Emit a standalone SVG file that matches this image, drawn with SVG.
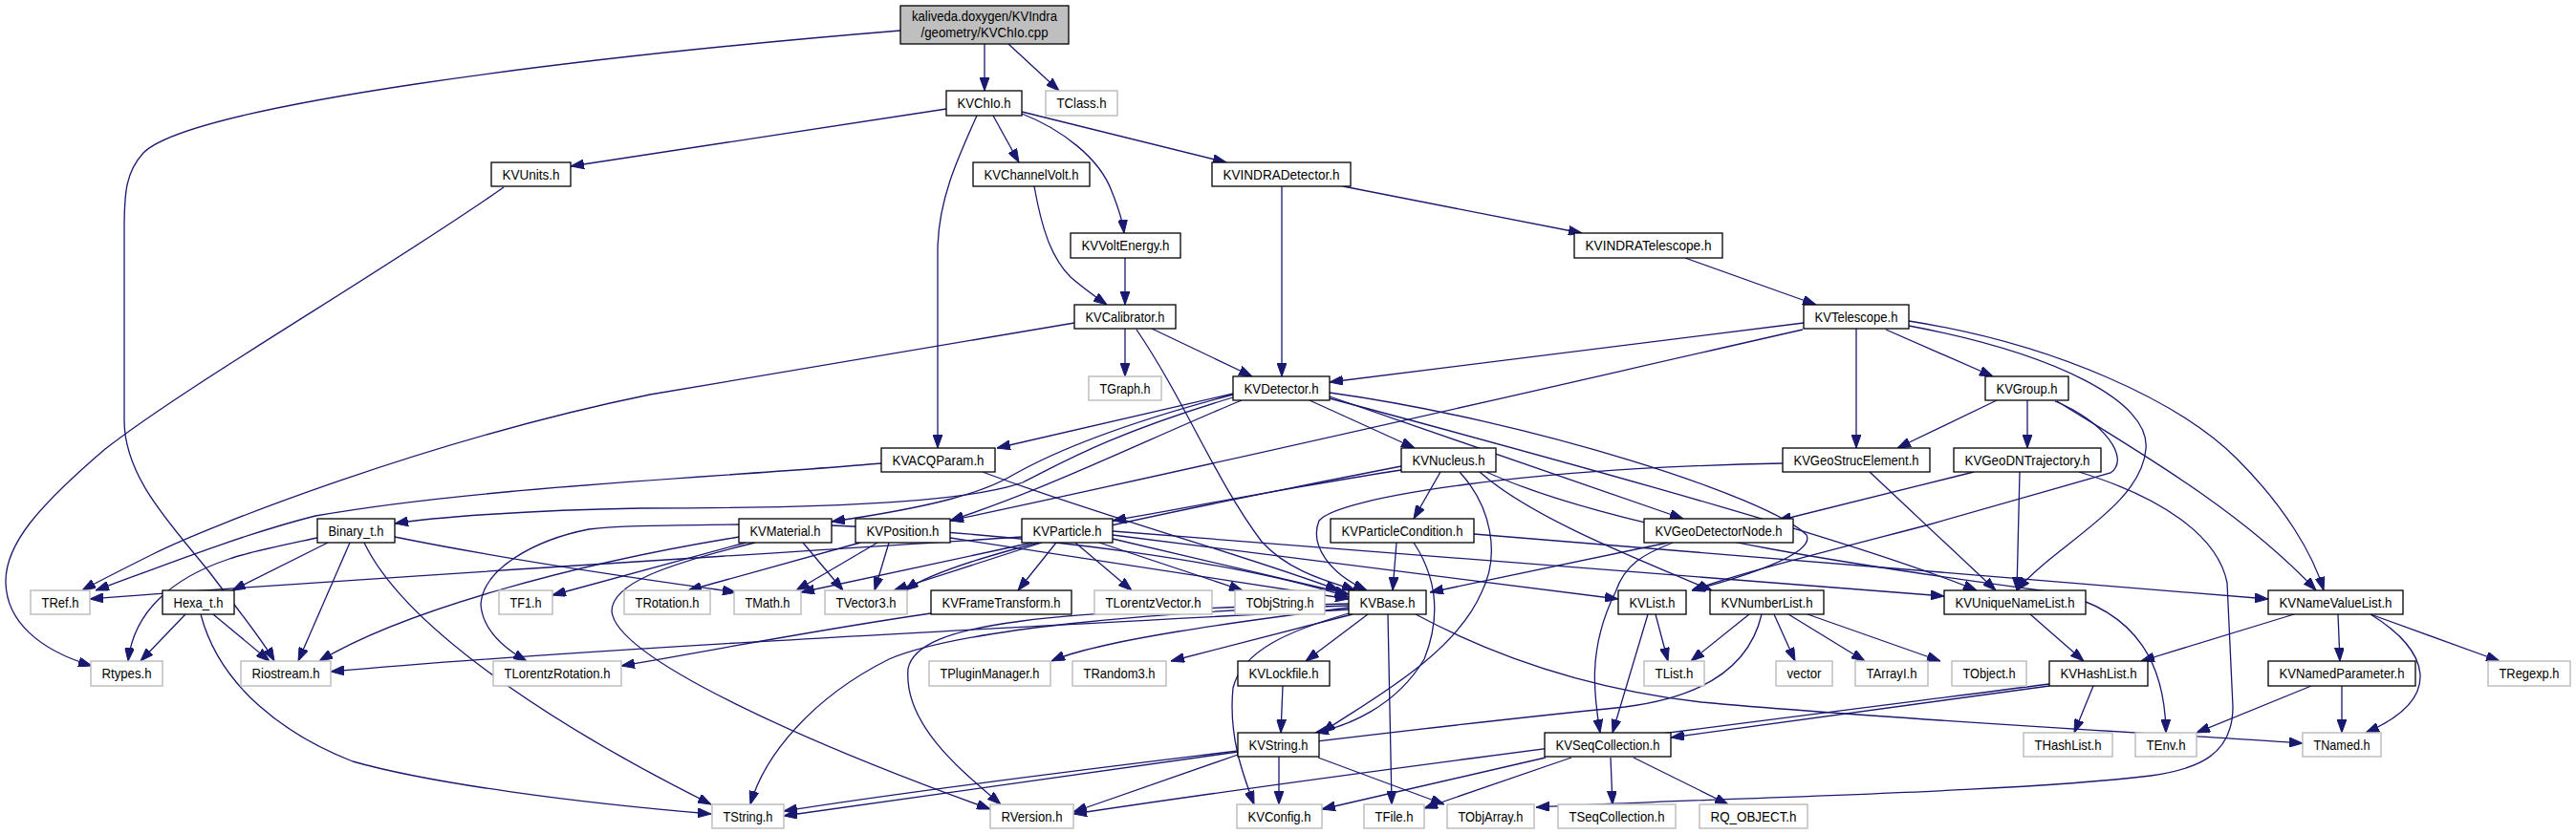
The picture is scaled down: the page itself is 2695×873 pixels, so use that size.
<svg xmlns="http://www.w3.org/2000/svg" width="2695" height="873" viewBox="0 0 2695 873">
<style>
rect{fill:#fff;stroke:#000;stroke-width:1.3}
.g rect{stroke:#bfbfbf;stroke-width:1.5}
.r rect{fill:#bfbfbf}
text{font-family:"Liberation Sans",Arial,sans-serif;font-size:15px;text-anchor:middle;fill:#000}
#edges path{fill:none;stroke:#191970;stroke-width:1.3;marker-end:url(#a)}
</style>
<defs>
<marker id="a" markerWidth="14" markerHeight="10" refX="14" refY="5" orient="auto" markerUnits="userSpaceOnUse"><path d="M0,0 L14,5 L0,10 z" fill="#191970" stroke="#191970"/></marker>
</defs>
<rect x="0" y="0" width="2695" height="873" style="stroke:none"/>
<g id="edges">
<path d="M1030,46 L1030,95"/>
<path d="M1055,46 L1108,95"/>
<path d="M942,32 C600,60 200,110 150,160 C132,180 130,200 130,240 L130,440 C130,500 180,550 220,600 C250,640 275,670 287,692"/>
<path d="M990,114 L597,174"/>
<path d="M1039,121 L1066,170"/>
<path d="M1069,119 C1110,135 1150,165 1163,200 C1171,220 1175,235 1176,244"/>
<path d="M1069,117 L1283,170"/>
<path d="M1022,121 C1000,170 982,210 981,260 L981,469"/>
<path d="M527,196 C400,285 200,400 110,470 C40,530 5,570 6,610 C7,650 40,680 96,697"/>
<path d="M1082,195 C1090,240 1100,270 1120,290 C1135,303 1148,312 1158,319"/>
<path d="M1177,270 L1177,319"/>
<path d="M1405,195 L1655,244"/>
<path d="M1341,195 L1341,394"/>
<path d="M1763,270 L1900,319"/>
<path d="M1177,344 L1177,394"/>
<path d="M1205,344 L1310,394"/>
<path d="M1124,338 L680,413 C450,460 220,550 160,580 C120,600 100,610 86,618"/>
<path d="M1189,345 C1240,420 1270,500 1320,567 C1350,600 1395,610 1418,618"/>
<path d="M1887,338 L1391,400"/>
<path d="M1886,345 C1600,410 1300,480 994,545"/>
<path d="M1942,344 L1942,469"/>
<path d="M1973,345 L2085,394"/>
<path d="M1997,336 C2150,360 2280,420 2340,480 C2390,530 2420,580 2431,618"/>
<path d="M1997,341 C2150,370 2250,420 2245,470 C2240,530 2150,570 2110,618"/>
<path d="M2089,419 L1985,469"/>
<path d="M2121,419 L2121,469"/>
<path d="M2152,420 C2250,480 2350,540 2423,618"/>
<path d="M2150,420 C2200,440 2230,480 2208,495 L2015,550 C1900,580 1820,600 1770,618"/>
<path d="M1956,494 L2088,618"/>
<path d="M2113,494 L2110,618"/>
<path d="M2175,494 C2260,520 2320,560 2330,610 L2336,740 C2336,790 2300,805 2250,812 C2100,830 1800,835 1607,845"/>
<path d="M2065,494 L1860,545"/>
<path d="M1865,485 C1600,490 1400,520 1380,545 C1370,570 1390,600 1430,618"/>
<path d="M1290,412 L1043,469"/>
<path d="M1370,419 L1480,469"/>
<path d="M1391,415 L1761,543"/>
<path d="M1299,419 C1200,460 1100,510 994,545"/>
<path d="M1290,413 C1150,450 1090,480 1060,497 C1030,515 980,530 870,546"/>
<path d="M1290,416 C1160,455 1110,485 1070,505 C1000,530 800,532 670,532 C550,534 450,542 413,548"/>
<path d="M773,549 C700,550 650,550 616,554 C560,565 505,595 503,633 C505,660 530,680 551,692"/>
<path d="M1391,411 C1600,440 1850,520 1890,560 C1900,580 1820,605 1770,618"/>
<path d="M1391,417 C1700,500 1950,570 2068,618"/>
<path d="M922,485 C750,500 500,510 330,540 C250,560 150,600 100,618"/>
<path d="M1028,494 C1150,540 1300,580 1401,618"/>
<path d="M1507,494 L1479,543"/>
<path d="M1466,492 C1350,510 1250,530 1164,545"/>
<path d="M1527,494 C1560,530 1570,580 1550,620 C1520,690 1420,740 1383,767"/>
<path d="M1548,494 C1600,540 1700,580 1791,618"/>
<path d="M1466,488 C1200,540 1000,580 947,618"/>
<path d="M1555,494 C1700,560 2000,600 2150,620 C2240,640 2265,700 2266,767"/>
<path d="M1069,562 C800,580 300,610 94,627"/>
<path d="M1080,568 L838,620"/>
<path d="M1090,568 L935,618"/>
<path d="M1105,568 L1065,618"/>
<path d="M1125,568 L1184,618"/>
<path d="M1150,568 L1300,618"/>
<path d="M1164,564 L1411,622"/>
<path d="M1164,560 L1693,627"/>
<path d="M1164,556 L2034,624"/>
<path d="M1461,568 L1457,618"/>
<path d="M1479,568 C1500,600 1510,640 1490,690 C1460,740 1410,760 1376,767"/>
<path d="M1542,559 L2373,627"/>
<path d="M1745,568 L1496,620"/>
<path d="M1750,568 C1720,580 1700,590 1690,620 C1660,680 1668,730 1674,767"/>
<path d="M773,562 C600,590 420,640 334,692"/>
<path d="M780,568 L578,623"/>
<path d="M840,568 L882,618"/>
<path d="M790,568 C700,590 640,610 640,640 C645,690 850,780 1036,847"/>
<path d="M870,550 C1100,560 1300,590 1411,625"/>
<path d="M900,568 L720,618"/>
<path d="M918,568 L833,618"/>
<path d="M930,568 L915,618"/>
<path d="M994,563 L1411,627"/>
<path d="M343,568 L243,618"/>
<path d="M332,563 C290,572 260,578 240,585 C180,605 140,640 134,692"/>
<path d="M366,568 L312,692"/>
<path d="M381,568 C420,650 560,750 744,842"/>
<path d="M413,562 C550,590 700,610 770,620"/>
<path d="M194,643 L147,692"/>
<path d="M223,643 L282,692"/>
<path d="M210,643 C230,720 300,770 369,797 C450,820 600,840 744,852"/>
<path d="M974,642 C850,660 750,680 650,697"/>
<path d="M1411,638 C1000,660 600,680 346,703"/>
<path d="M1411,636 C1300,650 1150,670 1100,692"/>
<path d="M1415,643 L1225,692"/>
<path d="M1411,634 C1200,640 1000,660 930,690 C850,730 800,790 785,842"/>
<path d="M1411,632 C1100,640 960,650 950,700 C945,760 1010,810 1047,842"/>
<path d="M1431,643 L1366,692"/>
<path d="M1452,643 L1456,842"/>
<path d="M1481,643 C1550,680 1650,720 1780,735 C2000,755 2300,770 2409,778"/>
<path d="M1411,642 C1350,660 1300,680 1290,720 C1285,770 1300,810 1312,842"/>
<path d="M1342,718 L1340,767"/>
<path d="M1295,787 L820,854"/>
<path d="M1295,790 L1123,850"/>
<path d="M1338,792 L1338,842"/>
<path d="M1379,793 L1511,842"/>
<path d="M1732,643 L1745,692"/>
<path d="M1724,643 L1687,767"/>
<path d="M1830,643 L1769,692"/>
<path d="M1856,643 L1878,692"/>
<path d="M1871,643 L1951,692"/>
<path d="M1891,643 L2030,692"/>
<path d="M1843,643 C1830,700 1780,730 1700,740 C1500,760 1000,820 820,849"/>
<path d="M2144,716 C1800,760 1400,810 1123,852"/>
<path d="M2144,718 L1748,772"/>
<path d="M2190,718 L2170,767"/>
<path d="M1617,793 L1383,847"/>
<path d="M1644,793 L1490,846"/>
<path d="M1685,793 L1687,842"/>
<path d="M1709,793 L1808,842"/>
<path d="M2124,643 L2180,692"/>
<path d="M2400,643 L2240,692"/>
<path d="M2446,643 L2448,692"/>
<path d="M2480,643 L2615,692"/>
<path d="M2480,643 C2540,680 2560,730 2475,767"/>
<path d="M2418,718 L2298,767"/>
<path d="M2450,718 L2450,767"/>
</g>
<g id="n_root" class="r"><rect x="942" y="6" width="176" height="40"/><text x="1030" y="22" textLength="152" lengthAdjust="spacingAndGlyphs">kaliveda.doxygen/KVIndra</text><text x="1030" y="39" textLength="133" lengthAdjust="spacingAndGlyphs">/geometry/KVChIo.cpp</text></g>
<g id="n_KVChIo"><rect x="990" y="95" width="79" height="26"/><text x="1029.5" y="113" textLength="56" lengthAdjust="spacingAndGlyphs">KVChIo.h</text></g>
<g id="n_TClass" class="g"><rect x="1094" y="95" width="75" height="26"/><text x="1131.5" y="113" textLength="52" lengthAdjust="spacingAndGlyphs">TClass.h</text></g>
<g id="n_KVUnits"><rect x="514" y="170" width="83" height="25"/><text x="555.5" y="188" textLength="60" lengthAdjust="spacingAndGlyphs">KVUnits.h</text></g>
<g id="n_KVChannelVolt"><rect x="1018" y="170" width="122" height="25"/><text x="1079" y="188" textLength="99" lengthAdjust="spacingAndGlyphs">KVChannelVolt.h</text></g>
<g id="n_KVINDRADetector"><rect x="1268" y="170" width="145" height="25"/><text x="1340.5" y="188" textLength="122" lengthAdjust="spacingAndGlyphs">KVINDRADetector.h</text></g>
<g id="n_KVVoltEnergy"><rect x="1120" y="244" width="115" height="26"/><text x="1177.5" y="262" textLength="92" lengthAdjust="spacingAndGlyphs">KVVoltEnergy.h</text></g>
<g id="n_KVINDRATelescope"><rect x="1647" y="244" width="155" height="26"/><text x="1724.5" y="262" textLength="132" lengthAdjust="spacingAndGlyphs">KVINDRATelescope.h</text></g>
<g id="n_KVCalibrator"><rect x="1124" y="319" width="106" height="25"/><text x="1177" y="337" textLength="83" lengthAdjust="spacingAndGlyphs">KVCalibrator.h</text></g>
<g id="n_KVTelescope"><rect x="1887" y="319" width="110" height="25"/><text x="1942" y="337" textLength="87" lengthAdjust="spacingAndGlyphs">KVTelescope.h</text></g>
<g id="n_TGraph" class="g"><rect x="1139" y="394" width="76" height="25"/><text x="1177" y="412" textLength="53" lengthAdjust="spacingAndGlyphs">TGraph.h</text></g>
<g id="n_KVDetector"><rect x="1290" y="394" width="101" height="25"/><text x="1340.5" y="412" textLength="78" lengthAdjust="spacingAndGlyphs">KVDetector.h</text></g>
<g id="n_KVGroup"><rect x="2077" y="394" width="87" height="25"/><text x="2120.5" y="412" textLength="64" lengthAdjust="spacingAndGlyphs">KVGroup.h</text></g>
<g id="n_KVACQParam"><rect x="922" y="469" width="119" height="25"/><text x="981.5" y="487" textLength="96" lengthAdjust="spacingAndGlyphs">KVACQParam.h</text></g>
<g id="n_KVNucleus"><rect x="1466" y="469" width="99" height="25"/><text x="1515.5" y="487" textLength="76" lengthAdjust="spacingAndGlyphs">KVNucleus.h</text></g>
<g id="n_KVGeoStrucElement"><rect x="1865" y="469" width="154" height="25"/><text x="1942" y="487" textLength="131" lengthAdjust="spacingAndGlyphs">KVGeoStrucElement.h</text></g>
<g id="n_KVGeoDNTrajectory"><rect x="2044" y="469" width="154" height="25"/><text x="2121" y="487" textLength="131" lengthAdjust="spacingAndGlyphs">KVGeoDNTrajectory.h</text></g>
<g id="n_Binary_t"><rect x="332" y="543" width="81" height="25"/><text x="372.5" y="561" textLength="58" lengthAdjust="spacingAndGlyphs">Binary_t.h</text></g>
<g id="n_KVMaterial"><rect x="773" y="543" width="97" height="25"/><text x="821.5" y="561" textLength="74" lengthAdjust="spacingAndGlyphs">KVMaterial.h</text></g>
<g id="n_KVPosition"><rect x="895" y="543" width="99" height="25"/><text x="944.5" y="561" textLength="76" lengthAdjust="spacingAndGlyphs">KVPosition.h</text></g>
<g id="n_KVParticle"><rect x="1069" y="543" width="95" height="25"/><text x="1116.5" y="561" textLength="72" lengthAdjust="spacingAndGlyphs">KVParticle.h</text></g>
<g id="n_KVParticleCondition"><rect x="1392" y="543" width="150" height="25"/><text x="1467" y="561" textLength="127" lengthAdjust="spacingAndGlyphs">KVParticleCondition.h</text></g>
<g id="n_KVGeoDetectorNode"><rect x="1720" y="543" width="156" height="25"/><text x="1798" y="561" textLength="133" lengthAdjust="spacingAndGlyphs">KVGeoDetectorNode.h</text></g>
<g id="n_TRef" class="g"><rect x="32" y="618" width="62" height="25"/><text x="63" y="636" textLength="39" lengthAdjust="spacingAndGlyphs">TRef.h</text></g>
<g id="n_Hexa_t"><rect x="170" y="618" width="75" height="25"/><text x="207.5" y="636" textLength="52" lengthAdjust="spacingAndGlyphs">Hexa_t.h</text></g>
<g id="n_TF1" class="g"><rect x="522" y="618" width="56" height="25"/><text x="550" y="636" textLength="33" lengthAdjust="spacingAndGlyphs">TF1.h</text></g>
<g id="n_TRotation" class="g"><rect x="653" y="618" width="90" height="25"/><text x="698" y="636" textLength="67" lengthAdjust="spacingAndGlyphs">TRotation.h</text></g>
<g id="n_TMath" class="g"><rect x="768" y="618" width="70" height="25"/><text x="803" y="636" textLength="47" lengthAdjust="spacingAndGlyphs">TMath.h</text></g>
<g id="n_TVector3" class="g"><rect x="863" y="618" width="86" height="25"/><text x="906" y="636" textLength="63" lengthAdjust="spacingAndGlyphs">TVector3.h</text></g>
<g id="n_KVFrameTransform"><rect x="974" y="618" width="147" height="25"/><text x="1047.5" y="636" textLength="124" lengthAdjust="spacingAndGlyphs">KVFrameTransform.h</text></g>
<g id="n_TLorentzVector" class="g"><rect x="1145" y="618" width="123" height="25"/><text x="1206.5" y="636" textLength="100" lengthAdjust="spacingAndGlyphs">TLorentzVector.h</text></g>
<g id="n_TObjString" class="g"><rect x="1292" y="618" width="94" height="25"/><text x="1339" y="636" textLength="71" lengthAdjust="spacingAndGlyphs">TObjString.h</text></g>
<g id="n_KVBase"><rect x="1411" y="618" width="81" height="25"/><text x="1451.5" y="636" textLength="58" lengthAdjust="spacingAndGlyphs">KVBase.h</text></g>
<g id="n_KVList"><rect x="1693" y="618" width="71" height="25"/><text x="1728.5" y="636" textLength="48" lengthAdjust="spacingAndGlyphs">KVList.h</text></g>
<g id="n_KVNumberList"><rect x="1789" y="618" width="119" height="25"/><text x="1848.5" y="636" textLength="96" lengthAdjust="spacingAndGlyphs">KVNumberList.h</text></g>
<g id="n_KVUniqueNameList"><rect x="2034" y="618" width="148" height="25"/><text x="2108" y="636" textLength="125" lengthAdjust="spacingAndGlyphs">KVUniqueNameList.h</text></g>
<g id="n_KVNameValueList"><rect x="2373" y="618" width="141" height="25"/><text x="2443.5" y="636" textLength="118" lengthAdjust="spacingAndGlyphs">KVNameValueList.h</text></g>
<g id="n_Rtypes" class="g"><rect x="95" y="692" width="75" height="26"/><text x="132.5" y="710" textLength="52" lengthAdjust="spacingAndGlyphs">Rtypes.h</text></g>
<g id="n_Riostream" class="g"><rect x="252" y="692" width="94" height="26"/><text x="299" y="710" textLength="71" lengthAdjust="spacingAndGlyphs">Riostream.h</text></g>
<g id="n_TLorentzRotation" class="g"><rect x="516" y="692" width="134" height="26"/><text x="583" y="710" textLength="111" lengthAdjust="spacingAndGlyphs">TLorentzRotation.h</text></g>
<g id="n_TPluginManager" class="g"><rect x="972" y="692" width="127" height="26"/><text x="1035.5" y="710" textLength="104" lengthAdjust="spacingAndGlyphs">TPluginManager.h</text></g>
<g id="n_TRandom3" class="g"><rect x="1122" y="692" width="98" height="26"/><text x="1171" y="710" textLength="75" lengthAdjust="spacingAndGlyphs">TRandom3.h</text></g>
<g id="n_KVLockfile"><rect x="1295" y="692" width="96" height="26"/><text x="1343" y="710" textLength="73" lengthAdjust="spacingAndGlyphs">KVLockfile.h</text></g>
<g id="n_TList" class="g"><rect x="1720" y="692" width="63" height="26"/><text x="1751.5" y="710" textLength="40" lengthAdjust="spacingAndGlyphs">TList.h</text></g>
<g id="n_vector" class="g"><rect x="1858" y="692" width="59" height="26"/><text x="1887.5" y="710" textLength="36" lengthAdjust="spacingAndGlyphs">vector</text></g>
<g id="n_TArrayI" class="g"><rect x="1941" y="692" width="76" height="26"/><text x="1979" y="710" textLength="53" lengthAdjust="spacingAndGlyphs">TArrayI.h</text></g>
<g id="n_TObject" class="g"><rect x="2042" y="692" width="78" height="26"/><text x="2081" y="710" textLength="55" lengthAdjust="spacingAndGlyphs">TObject.h</text></g>
<g id="n_KVHashList"><rect x="2144" y="692" width="103" height="26"/><text x="2195.5" y="710" textLength="80" lengthAdjust="spacingAndGlyphs">KVHashList.h</text></g>
<g id="n_KVNamedParameter"><rect x="2373" y="692" width="154" height="26"/><text x="2450" y="710" textLength="131" lengthAdjust="spacingAndGlyphs">KVNamedParameter.h</text></g>
<g id="n_TRegexp" class="g"><rect x="2603" y="692" width="86" height="26"/><text x="2646" y="710" textLength="63" lengthAdjust="spacingAndGlyphs">TRegexp.h</text></g>
<g id="n_KVString"><rect x="1295" y="767" width="85" height="25"/><text x="1337.5" y="785" textLength="62" lengthAdjust="spacingAndGlyphs">KVString.h</text></g>
<g id="n_KVSeqCollection"><rect x="1616" y="767" width="132" height="25"/><text x="1682" y="785" textLength="109" lengthAdjust="spacingAndGlyphs">KVSeqCollection.h</text></g>
<g id="n_THashList" class="g"><rect x="2117" y="767" width="93" height="25"/><text x="2163.5" y="785" textLength="70" lengthAdjust="spacingAndGlyphs">THashList.h</text></g>
<g id="n_TEnv" class="g"><rect x="2234" y="767" width="64" height="25"/><text x="2266" y="785" textLength="41" lengthAdjust="spacingAndGlyphs">TEnv.h</text></g>
<g id="n_TNamed" class="g"><rect x="2409" y="767" width="82" height="25"/><text x="2450" y="785" textLength="59" lengthAdjust="spacingAndGlyphs">TNamed.h</text></g>
<g id="n_TString" class="g"><rect x="745" y="842" width="75" height="25"/><text x="782.5" y="860" textLength="52" lengthAdjust="spacingAndGlyphs">TString.h</text></g>
<g id="n_RVersion" class="g"><rect x="1036" y="842" width="87" height="25"/><text x="1079.5" y="860" textLength="64" lengthAdjust="spacingAndGlyphs">RVersion.h</text></g>
<g id="n_KVConfig" class="g"><rect x="1294" y="842" width="89" height="25"/><text x="1338.5" y="860" textLength="66" lengthAdjust="spacingAndGlyphs">KVConfig.h</text></g>
<g id="n_TFile" class="g"><rect x="1427" y="842" width="63" height="25"/><text x="1458.5" y="860" textLength="40" lengthAdjust="spacingAndGlyphs">TFile.h</text></g>
<g id="n_TObjArray" class="g"><rect x="1514" y="842" width="91" height="25"/><text x="1559.5" y="860" textLength="68" lengthAdjust="spacingAndGlyphs">TObjArray.h</text></g>
<g id="n_TSeqCollection" class="g"><rect x="1630" y="842" width="123" height="25"/><text x="1691.5" y="860" textLength="100" lengthAdjust="spacingAndGlyphs">TSeqCollection.h</text></g>
<g id="n_RQ_OBJECT" class="g"><rect x="1778" y="842" width="113" height="25"/><text x="1834.5" y="860" textLength="90" lengthAdjust="spacingAndGlyphs">RQ_OBJECT.h</text></g>
</svg>
